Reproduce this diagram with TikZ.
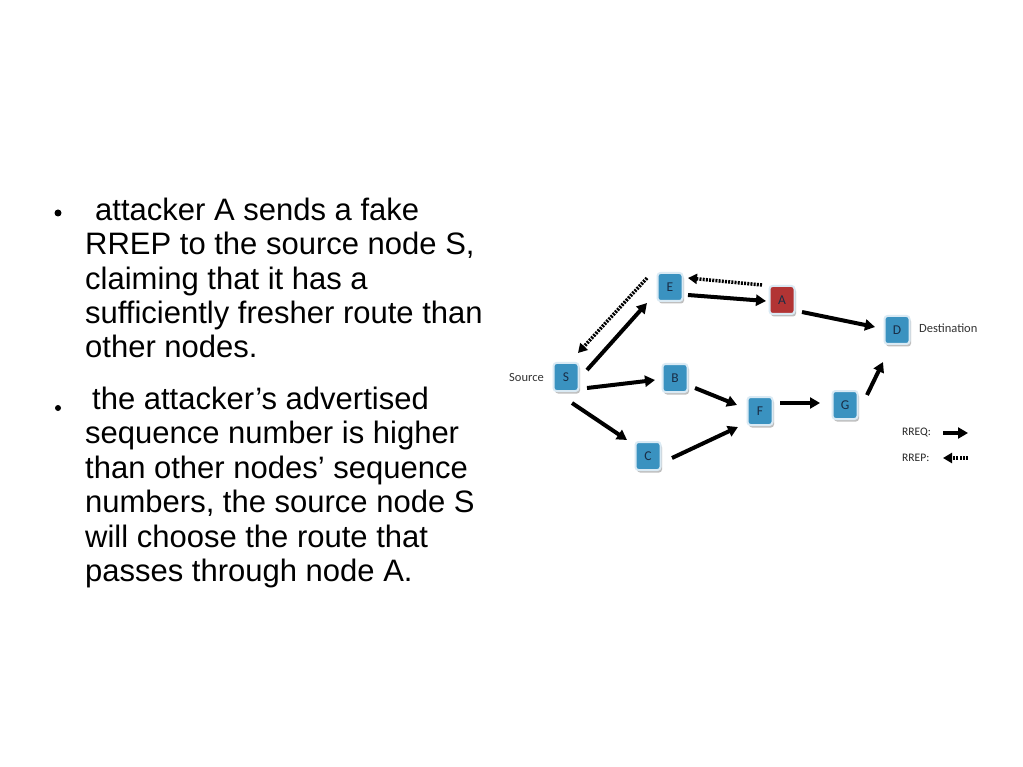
\documentclass[tikz,border=0pt]{standalone}
\usepackage{fontspec}
\setmainfont{Liberation Sans}
\newfontfamily\labfont{Carlito}
\usetikzlibrary{arrows.meta,shadows}
\definecolor{nodeblue}{RGB}{58,146,192}
\definecolor{nodered}{RGB}{178,52,52}
\definecolor{halo}{RGB}{218,234,244}
\definecolor{lettercol}{RGB}{25,45,70}
\begin{document}
\begin{tikzpicture}[x=1pt,y=-1pt,
  netnode/.style={rectangle,rounded corners=3pt,fill=nodeblue,draw=halo,line width=2pt,
    minimum width=25pt,minimum height=28pt,inner sep=0pt,
    font=\labfont\fontsize{13.5}{15}\selectfont,text=lettercol,
    drop shadow={shadow xshift=1.5pt,shadow yshift=-2.5pt,fill=gray!50,opacity=1}},
  attnode/.style={netnode,fill=nodered},
  req/.style={line width=4pt,-{Triangle[length=10pt,width=11pt]}},
  rep/.style={line width=3.5pt,dash pattern=on 2pt off 1.2pt,-{Triangle[length=9pt,width=10pt]}},
  lab/.style={font=\labfont\fontsize{12.5}{14}\selectfont,text=black!80,inner sep=0pt},
  leglab/.style={font=\labfont\fontsize{11.5}{13}\selectfont,text=black!85,inner sep=0pt,anchor=west},
  bul/.style={circle,fill=black,inner sep=0pt,minimum size=7pt},
  para/.style={font=\fontsize{31}{34.4}\selectfont,align=left,inner sep=0pt,anchor=base west}]
\fill[white] (0,0) rectangle (1023,767);
\useasboundingbox (0,0) rectangle (1023,767);

% text (base anchor = baseline of last line)
\node[bul] (b1) at (58,213) {};
\node[para] (t1) at (85,358) {\hspace*{10pt}attacker A sends a fake\\RREP to the source node S,\\claiming that it has a\\sufficiently fresher route than\\other nodes.};
\node[bul,minimum size=6pt] (b2) at (58,408) {};
\node[para] (t2) at (85,581.5) {\hspace*{7pt}the attacker’s advertised\\sequence number is higher\\than other nodes’ sequence\\numbers, the source node S\\will choose the route that\\passes through node A.};

% network nodes
\node[netnode] (S) at (566,377) {S};
\node[netnode] (E) at (670,287) {E};
\node[netnode] (B) at (675,378) {B};
\node[netnode] (C) at (648,456) {C};
\node[netnode] (F) at (760,411) {F};
\node[netnode] (G) at (845,405) {G};
\node[attnode] (A) at (782,300) {A};
\node[netnode] (D) at (897,330) {D};
\node[lab,anchor=east] (src) at (544,377) {Source};
\node[lab,anchor=west] (dst) at (919,328) {Destination};

% RREQ arrows
\draw[req] ([shift={(21,-7)}]S.center) -- ([shift={(-23,16)}]E.center);
\draw[req] ([shift={(18,8)}]E.center) -- ([shift={(-16,1)}]A.center);
\draw[req] ([shift={(20,12)}]A.center) -- ([shift={(-22,-3)}]D.center);
\draw[req] ([shift={(21,11)}]S.center) -- ([shift={(-20,2)}]B.center);
\draw[req] ([shift={(6,26)}]S.center) -- ([shift={(-21,-16)}]C.center);
\draw[req] ([shift={(20,10)}]B.center) -- ([shift={(-23,-6)}]F.center);
\draw[req] ([shift={(24,2)}]C.center) -- ([shift={(-22,16)}]F.center);
\draw[req] ([shift={(20,-8)}]F.center) -- ([shift={(-25,-2)}]G.center);
\draw[req] ([shift={(22,-10)}]G.center) -- ([shift={(-14,32)}]D.center);

% RREP arrows
\draw[rep] ([shift={(-20,-15)}]A.center) -- ([shift={(18,-9)}]E.center);
\draw[rep] ([shift={(-23,-9)}]E.center) -- ([shift={(12,-24)}]S.center);

% legend
\node[leglab] (rreq) at (902,433) {RREQ:};
\node[leglab] (rrep) at (902,458) {RREP:};
\coordinate (q1) at (943,433);
\coordinate (q2) at (968,433);
\coordinate (p1) at (968,458);
\coordinate (p2) at (943,458);
\draw[req] (q1) -- (q2);
\draw[rep] (p1) -- (p2);
\end{tikzpicture}
\end{document}
